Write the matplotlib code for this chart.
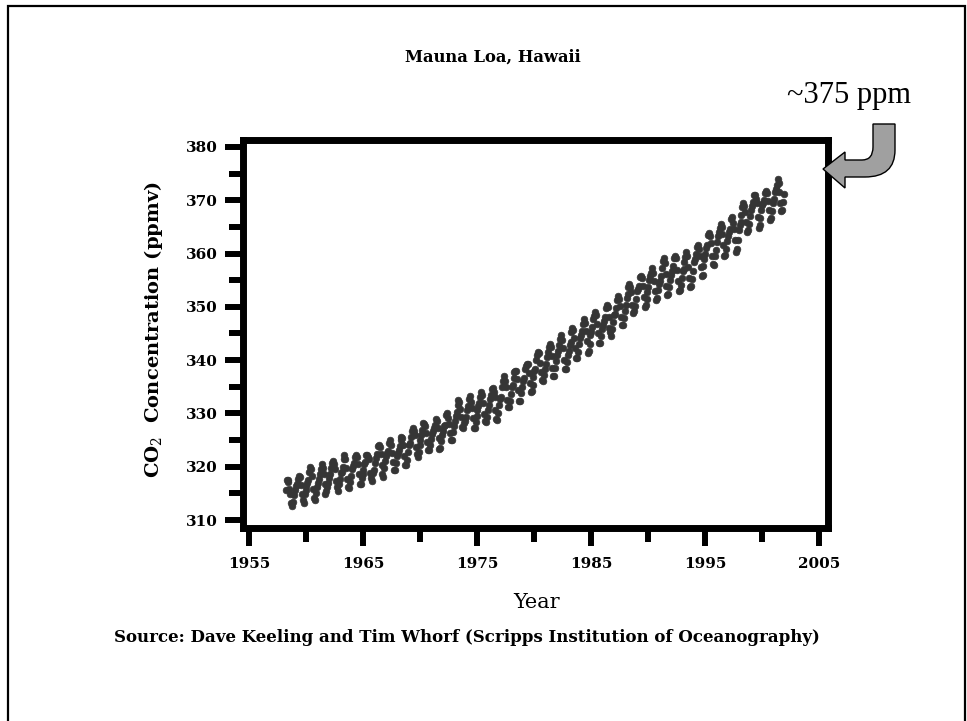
import numpy as np
import matplotlib.pyplot as plt
from matplotlib.patches import PathPatch, Rectangle
from matplotlib.path import Path
from matplotlib.ticker import MultipleLocator

plt.rcParams['font.family'] = ['DejaVu Serif']
plt.rcParams['mathtext.fontset'] = 'dejavuserif'

# monthly CO2 (ppmv), one row per year, Jan..Dec
years = list(range(1958, 2002))
co2 = [
    [np.nan, np.nan, 315.71, 317.45, 317.50, 317.10, 315.86, 314.93, 313.20, 312.66, 313.33, 314.67],
    [315.62, 316.38, 316.71, 317.72, 318.29, 318.15, 316.54, 314.80, 313.84, 313.26, 314.80, 315.58],
    [316.43, 316.97, 317.58, 319.02, 320.03, 319.59, 318.18, 315.91, 314.16, 313.83, 315.00, 316.19],
    [316.93, 317.70, 318.54, 319.48, 320.58, 319.77, 318.57, 316.79, 314.80, 315.38, 316.10, 317.01],
    [317.94, 318.56, 319.68, 320.63, 321.01, 320.55, 319.58, 317.40, 316.26, 315.42, 316.69, 317.69],
    [318.74, 319.08, 319.86, 321.39, 322.25, 321.47, 319.74, 317.77, 316.21, 315.99, 317.12, 318.31],
    [319.57, 320.07, 320.73, 321.77, 322.25, 321.89, 320.44, 318.70, 316.70, 316.79, 317.79, 318.71],
    [319.44, 320.44, 320.89, 322.13, 322.16, 321.87, 321.39, 318.81, 317.81, 317.30, 318.87, 319.42],
    [320.62, 321.59, 322.39, 323.87, 324.01, 323.75, 322.39, 320.37, 318.64, 318.10, 319.79, 321.08],
    [322.07, 322.50, 323.04, 324.42, 325.00, 324.09, 322.55, 320.92, 319.31, 319.31, 320.72, 321.96],
    [322.57, 323.15, 323.89, 325.02, 325.57, 325.36, 324.14, 322.03, 320.41, 320.25, 321.31, 322.84],
    [324.00, 324.42, 325.64, 326.66, 327.34, 326.76, 325.88, 323.67, 322.38, 321.78, 322.85, 324.11],
    [325.03, 325.99, 326.87, 328.13, 328.07, 327.66, 326.35, 324.69, 323.10, 323.16, 323.98, 325.13],
    [326.17, 326.68, 327.18, 327.78, 328.92, 328.57, 327.34, 325.46, 323.36, 323.57, 324.80, 326.01],
    [326.77, 327.63, 327.75, 329.72, 330.07, 329.09, 328.05, 326.32, 324.93, 325.06, 326.50, 327.55],
    [328.54, 329.56, 330.30, 331.50, 332.48, 332.07, 330.87, 329.31, 327.51, 327.18, 328.16, 328.64],
    [329.35, 330.71, 331.48, 332.65, 333.20, 332.16, 331.07, 329.12, 327.32, 327.28, 328.30, 329.58],
    [330.73, 331.46, 331.90, 333.17, 333.94, 333.45, 331.97, 329.95, 328.50, 328.34, 329.37, 330.58],
    [331.59, 332.75, 333.52, 334.64, 334.77, 334.00, 333.06, 330.68, 328.95, 328.75, 330.15, 331.62],
    [332.66, 333.13, 334.95, 336.13, 336.93, 336.17, 334.88, 332.56, 331.29, 331.27, 332.41, 333.60],
    [334.95, 335.25, 336.66, 337.69, 338.03, 338.01, 336.41, 334.41, 332.37, 332.41, 333.75, 334.90],
    [336.14, 336.69, 338.27, 338.96, 339.21, 339.26, 337.54, 335.75, 333.98, 334.19, 335.31, 336.81],
    [337.90, 338.34, 340.01, 340.93, 341.48, 341.33, 339.40, 337.70, 336.19, 336.15, 337.27, 338.32],
    [339.29, 340.55, 341.61, 342.53, 343.03, 342.54, 340.78, 338.44, 336.95, 337.08, 338.58, 339.88],
    [340.96, 341.73, 342.81, 343.97, 344.63, 343.79, 342.32, 340.09, 338.28, 338.29, 339.60, 340.90],
    [341.68, 342.90, 343.33, 345.25, 346.03, 345.63, 344.19, 342.27, 340.35, 340.38, 341.59, 343.05],
    [344.10, 344.79, 345.52, 346.84, 347.63, 346.98, 345.53, 343.55, 341.40, 341.67, 343.10, 344.70],
    [345.21, 346.16, 347.74, 348.34, 349.06, 348.38, 346.72, 345.02, 343.27, 343.13, 344.49, 345.88],
    [346.56, 347.28, 348.01, 349.77, 350.38, 349.93, 348.16, 346.08, 345.22, 344.51, 345.93, 347.21],
    [348.52, 348.73, 349.73, 351.31, 352.09, 351.53, 350.11, 348.08, 346.52, 346.59, 347.96, 349.16],
    [350.39, 351.64, 352.41, 353.69, 354.21, 353.72, 352.69, 350.40, 348.92, 349.13, 350.20, 351.41],
    [352.91, 353.27, 353.96, 355.64, 355.86, 355.37, 353.99, 351.81, 350.05, 350.25, 351.49, 352.85],
    [353.80, 355.04, 355.73, 356.32, 357.32, 356.34, 354.84, 353.01, 351.31, 351.62, 353.07, 354.33],
    [354.84, 355.73, 357.23, 358.66, 359.13, 358.13, 356.19, 353.85, 352.25, 352.35, 353.81, 355.12],
    [355.89, 356.63, 357.72, 359.07, 359.58, 359.17, 356.94, 354.92, 352.94, 353.23, 354.09, 355.33],
    [356.63, 357.10, 358.32, 359.41, 360.23, 359.55, 357.53, 355.48, 353.67, 353.95, 355.30, 356.78],
    [358.34, 358.89, 359.95, 361.25, 361.67, 360.94, 359.55, 357.49, 355.84, 356.00, 357.59, 359.05],
    [359.98, 361.03, 361.66, 363.48, 363.82, 363.30, 361.94, 359.50, 358.11, 357.80, 359.61, 360.74],
    [362.09, 363.29, 364.06, 364.76, 365.45, 365.01, 363.70, 361.54, 359.51, 359.65, 360.80, 362.38],
    [363.23, 364.06, 364.61, 366.40, 366.84, 365.68, 364.52, 362.57, 360.24, 360.83, 362.49, 364.34],
    [365.27, 365.98, 367.24, 368.66, 369.42, 368.99, 367.82, 365.95, 364.02, 364.40, 365.52, 367.13],
    [368.18, 368.99, 369.67, 370.99, 370.96, 370.30, 369.45, 366.90, 364.81, 365.37, 366.72, 368.10],
    [369.08, 369.40, 370.01, 371.44, 371.73, 371.42, 369.86, 368.10, 366.27, 366.69, 368.05, 369.54],
    [370.28, 371.50, 372.12, 372.86, 374.02, 373.30, 371.62, 369.55, 367.96, 368.09, 369.68, 371.24],
]

# decimal date at mid-month
t = np.array(years)[:, None] + (np.arange(12) + 0.5) / 12.0
t = t.ravel()
y = np.array(co2).ravel()

W, H = 967, 721
fig = plt.figure(figsize=(W / 100, H / 100), dpi=100)
ax = fig.add_axes([243 / W, 1 - 528 / H, (828 - 243) / W, (528 - 140) / H])

ax.plot(t, y, 'o', color='#353535', ms=4.8, mec='#353535', mew=0.5, ls='none')

ax.set_xlim(1954.47, 2005.8)
ax.set_ylim(308.5, 381.3)
ax.xaxis.set_minor_locator(MultipleLocator(5))
ax.yaxis.set_minor_locator(MultipleLocator(5))
ax.set_xticks(range(1955, 2006, 10))
ax.set_yticks(range(310, 381, 10))

for s in ax.spines.values():
    s.set_linewidth(5)
ax.tick_params(which='major', length=13, width=4.3, labelsize=11, pad=5)
ax.tick_params(which='minor', length=10, width=4.3)
ax.tick_params(axis='x', which='major', pad=8)
for lab in ax.get_xticklabels() + ax.get_yticklabels():
    lab.set_fontweight('semibold')

ax.set_xlabel('Year', fontsize=15)
ax.xaxis.set_label_coords(0.501, -0.168)
ax.set_ylabel(r'CO$_2$  Concentration (ppmv)', fontsize=14, fontweight='bold')
ax.yaxis.set_label_coords(-0.133, 0.51)

fig.text(493 / W, 1 - 57 / H, 'Mauna Loa, Hawaii', ha='center', va='center',
         fontsize=11.8, fontweight='bold')
fig.text(467 / W, 1 - 637 / H,
         'Source: Dave Keeling and Tim Whorf (Scripps Institution of Oceanography)',
         ha='center', va='center', fontsize=12, fontweight='bold')
fig.text(849 / W, 1 - 95 / H, '~375 ppm', ha='center', va='center',
         fontsize=22, family='Liberation Serif')

# curved block arrow pointing at the end of the record
px = [(873, 124), (895, 124), (895, 150), (895, 177), (865, 177), (845, 177),
      (845, 188), (823, 169), (845, 152), (845, 160), (862, 160), (873, 160),
      (873, 147), (873, 124)]
codes = [Path.MOVETO, Path.LINETO, Path.LINETO, Path.CURVE3, Path.CURVE3, Path.LINETO,
         Path.LINETO, Path.LINETO, Path.LINETO, Path.LINETO, Path.LINETO, Path.CURVE3,
         Path.CURVE3, Path.CLOSEPOLY]
verts = [(a / W, 1 - b / H) for a, b in px]
fig.patches.append(PathPatch(Path(verts, codes), transform=fig.transFigure,
                             facecolor='#a0a0a0', edgecolor='black', lw=1))

# outer frame of the slide
fig.patches.append(Rectangle((8 / W, -0.05), (965 - 8) / W, 1.05 - 6 / H,
                             transform=fig.transFigure, fill=False,
                             edgecolor='black', lw=1.6, clip_on=False))

fig.savefig('out.png', dpi=100)
